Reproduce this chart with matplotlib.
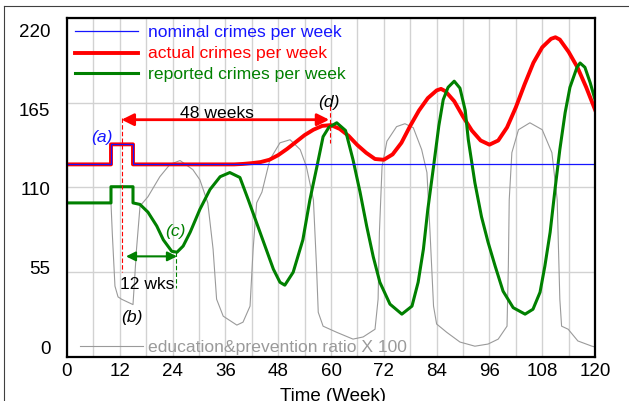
import matplotlib
matplotlib.use("Agg")
import matplotlib.pyplot as plt
from matplotlib.lines import Line2D
import numpy as np

plt.rcParams["font.family"] = ["Liberation Sans", "DejaVu Sans"]

# nominal crimes per week
t_nom = [0, 10, 10, 15, 15, 120]
nominal = [125, 125, 138, 138, 125, 125]

# actual crimes per week
t_act = [0, 10, 10, 15, 15, 38, 40, 42, 44, 46, 48, 50, 52, 54, 56, 58, 60, 62, 64, 66,
         68, 70, 72, 74, 76, 78, 80, 82, 84, 85, 86, 88, 90, 92, 94, 96, 98, 100, 102, 104,
         106, 108, 110, 111, 112, 114, 116, 118, 120]
actual = [125, 125, 138, 138, 125, 125, 125.3, 125.8, 126.5, 128, 131, 135, 139.5, 144,
          147.5, 150, 150.5, 148, 143.5, 137.5, 132.5, 128.5, 128, 131.5, 139, 150, 160,
          168, 173, 174, 172.5, 166, 156, 147, 140.5, 137.8, 140.5, 149, 162, 177, 191,
          201, 206.5, 207.5, 206, 198, 188, 175, 160.5]

# reported crimes per week
t_rep = [0, 10, 10, 15, 15, 16.6, 18.4, 20.4, 21.9, 23.8, 25, 26.4, 28, 30.2, 32.5, 34.8,
         37, 39.3, 41.2, 43.1, 45, 46.9, 48.4, 49.5, 51.4, 53.6, 55.2, 56.8, 58.2, 59.5,
         61.3, 63.3, 65, 66.6, 68.1, 69.6, 71.1, 73.4, 76.1, 78.4, 79.8, 81, 82, 83.3,
         84.5, 85.5, 86.6, 88, 89.3, 90.5, 91.2, 92.7, 94.2, 95.7, 97.3, 99.1, 101.4,
         104.1, 105.9, 107.5, 108.6, 109.8, 110.9, 112, 113.2, 114.3, 115.9, 116.6,
         117.7, 118.9, 120]
reported = [100, 100, 110.5, 110.5, 100, 99, 94, 85, 76, 68.6, 68, 72, 81, 95.8, 108.7,
            117, 119.7, 116.5, 102, 87, 72, 57, 48.5, 46.6, 55, 76, 102, 123.6, 143, 149,
            152, 147, 128, 107, 85, 65, 48.5, 34.3, 27.8, 33, 48.5, 70, 95.8, 123.6, 150,
            167, 175, 179, 174.5, 160, 141, 113, 91, 74.4, 59, 42.7, 32, 27.8, 31, 42, 59,
            81, 108.7, 134.6, 158.5, 175, 188, 190.8, 188, 178, 167]

# education&prevention ratio X 100
t_edu = [0, 10, 10.3, 10.9, 11.6, 12.4, 15, 15.8, 16.6, 18.4, 21.1, 23.4, 25.7, 28.6,
         30.2, 32, 33.2, 34, 35.5, 38.6, 40, 41.6, 42.3, 43.1, 44.3, 46.1, 48.4, 50.7,
         53, 54.4, 56, 56.7, 57.1, 58.2, 61.3, 65, 67.3, 70, 70.7, 71, 71.6, 72.7, 74.9,
         76.8, 78.7, 80.6, 81.8, 82.5, 83.3, 84, 86.3, 89.3, 92.7, 95.7, 98, 100, 100.3,
         100.5, 101.1, 102.6, 105.2, 108, 110.2, 111.4, 112, 112.4, 113.9, 116.1, 119.3,
         120]
education = [100, 100, 80, 46, 39, 37.5, 34, 70, 98, 104, 117, 125, 127.5, 121.6, 115,
             100, 70, 37.5, 26.5, 20.7, 22.6, 33, 70, 100, 107, 128, 139, 141, 134.6,
             123.6, 102, 59, 29, 20, 16, 11.6, 13, 18, 37.5, 81, 123.6, 140, 149.5, 151.4,
             148.8, 134.6, 119.7, 81, 33, 21.4, 16, 9.7, 7, 8.4, 11.6, 20, 59, 102, 132.6,
             147.5, 152, 147.5, 132.6, 102, 37.5, 20, 18, 10.4, 7, 6.5]

xticks = list(range(0, 121, 12))
yticks = [0, 55, 110, 165, 220]

blue = "#1515ff"
red = "#ff0000"
green = "#008000"
gray = "#9a9a9a"
fs = 12.6      # legend / annotations
fs_tick = 13.5

fig = plt.figure(figsize=(6.29, 4.02), dpi=100)
ax = fig.add_axes([0.1065, 0.1095, 0.8395, 0.8432])

ax.plot(t_edu, education, color=gray, lw=0.8)
ax.plot(t_act, actual, color=red, lw=2.8, solid_joinstyle="round")
ax.plot(t_rep, reported, color=green, lw=2.2)
ax.plot(t_nom, nominal, color=blue, lw=0.9)

ax.set_xlim(0, 120)
ax.set_ylim(0, 220)
ax.set_xticks(np.arange(0, 121, 6))
ax.set_yticks(yticks)
ax.grid(True, color="#d2d2d2", lw=1.0)
ax.set_axisbelow(True)
ax.tick_params(length=0, labelleft=False, labelbottom=False)
for s in ax.spines.values():
    s.set_linewidth(1.6)
    s.set_color("black")

# tick labels
for x in xticks:
    ax.text(x, -3.5, str(x), ha="center", va="top", fontsize=fs_tick)
for y in yticks:
    ax.text(-3.8, 5.8 + y * 0.933, str(y), ha="right", va="center", fontsize=fs_tick)
ax.text(60.5, -19.5, "Time (Week)", ha="center", va="top", fontsize=fs_tick)

# legend drawn in data space
leg = [("nominal crimes per week", blue, 0.9, 211.5),
       ("actual crimes per week", red, 2.8, 197.5),
       ("reported crimes per week", green, 2.2, 184)]
for label, c, lw, y in leg:
    ax.plot([1.8, 16.2], [y, y], color=c, lw=lw)
    ax.text(18.5, y, label, color=c, fontsize=fs, va="center")
ax.plot([3, 17.3], [7, 7], color=gray, lw=0.8)
ax.text(18.5, 7, "education&prevention ratio X 100", color=gray, fontsize=fs, va="center")

# annotations
ax.annotate("", xy=(12.4, 154), xytext=(59.6, 154),
            arrowprops=dict(arrowstyle="<|-|>", color=red, lw=2.0, mutation_scale=18,
                            shrinkA=0, shrinkB=0))
ax.text(34, 158.5, "48 weeks", ha="center", va="center", fontsize=fs)
ax.plot([12.6, 12.6], [155, 55], color=red, lw=0.8, ls=(0, (4, 2)))
ax.plot([59.8, 59.8], [163, 139], color=red, lw=0.8, ls=(0, (4, 2)))
ax.text(59.5, 166, "(d)", ha="center", va="center", fontsize=fs, style="italic")
ax.text(7.9, 143, "(a)", ha="center", va="center", fontsize=fs, style="italic", color=blue)
ax.text(14.7, 26.5, "(b)", ha="center", va="center", fontsize=fs, style="italic")
ax.text(24.7, 82, "(c)", ha="center", va="center", fontsize=fs, style="italic", color=green)
ax.annotate("", xy=(13.4, 65.3), xytext=(25, 65.3),
            arrowprops=dict(arrowstyle="<|-|>", color=green, lw=1.5, mutation_scale=14,
                            shrinkA=0, shrinkB=0))
ax.plot([24.8, 24.8], [68, 45], color=green, lw=0.8, ls=(0, (4, 2)))
ax.text(18.2, 47.5, "12 wks", ha="center", va="center", fontsize=fs)

# outer frame (top and left)
fig.add_artist(Line2D([4 / 629, 1], [1 - 7 / 402, 1 - 7 / 402], color="#404040", lw=0.8,
                      transform=fig.transFigure))
fig.add_artist(Line2D([4 / 629, 4 / 629], [0, 1 - 7 / 402], color="#404040", lw=0.8,
                      transform=fig.transFigure))

fig.savefig("out.png", dpi=100)
